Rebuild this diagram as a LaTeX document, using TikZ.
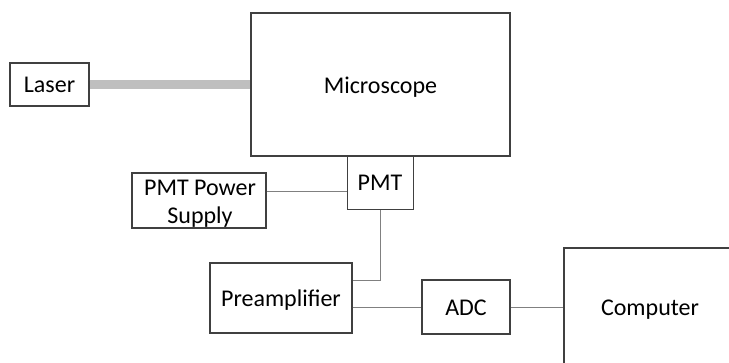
\documentclass[tikz,border=0pt]{standalone}
\usepackage{fontspec}
\setmainfont{Carlito}
\begin{document}
\begin{tikzpicture}[x=1pt,y=-1pt,
  box/.style={draw=black!75, line width=1.2pt, fill=white, inner sep=0pt, font=\fontsize{24}{28}\selectfont, align=center},
  lbl/.style={font=\fontsize{24}{28}\selectfont, inner sep=0pt, anchor=base},
  wire/.style={draw=black!50, line width=1pt},
  beam/.style={draw=black!25, line width=9pt}]
\useasboundingbox (0,0) rectangle (729,362);
\clip (0,0) rectangle (729,362);
\node[box, minimum width=79pt, minimum height=43pt] (laser) at (49.5,84.5) {};
\node[lbl] at (laser.center |- 0,92) {Laser};
\node[box, minimum width=259pt, minimum height=143pt] (micro) at (380.5,84.5) {};
\node[lbl] at (micro.center |- 0,93) {Microscope};
\node[box, minimum width=66pt, minimum height=53pt, anchor=north west] (pmt) at (347,156) {};
\node[lbl] at (380,190) {PMT};
\node[box, minimum width=134pt, minimum height=55pt] (pps) at (199,200.5) {};
\node[lbl] at (200,195) {PMT Power};
\node[lbl] at (200,223) {Supply};
\node[box, minimum width=142pt, minimum height=70pt] (pre) at (281,298) {};
\node[lbl] at (pre.center |- 0,306) {Preamplifier};
\node[box, minimum width=88pt, minimum height=54pt] (adc) at (466,307) {};
\node[lbl] at (adc.center |- 0,315) {ADC};
\node[box, minimum width=172pt, minimum height=118pt] (comp) at (650,307) {};
\node[lbl] at (comp.center |- 0,315) {Computer};
\coordinate (bend) at (380,280);
\draw[beam] (laser.east) -- (micro.west |- laser.east);
\draw[wire] (pps.east |- 0,191) -- (pmt.west |- 0,191);
\draw[wire] (pmt.south -| bend) -- (bend) -- (pre.east |- bend);
\draw[wire] (pre.east |- adc.west) -- (adc.west);
\draw[wire] (adc.east) -- (comp.west);
\end{tikzpicture}
\end{document}
